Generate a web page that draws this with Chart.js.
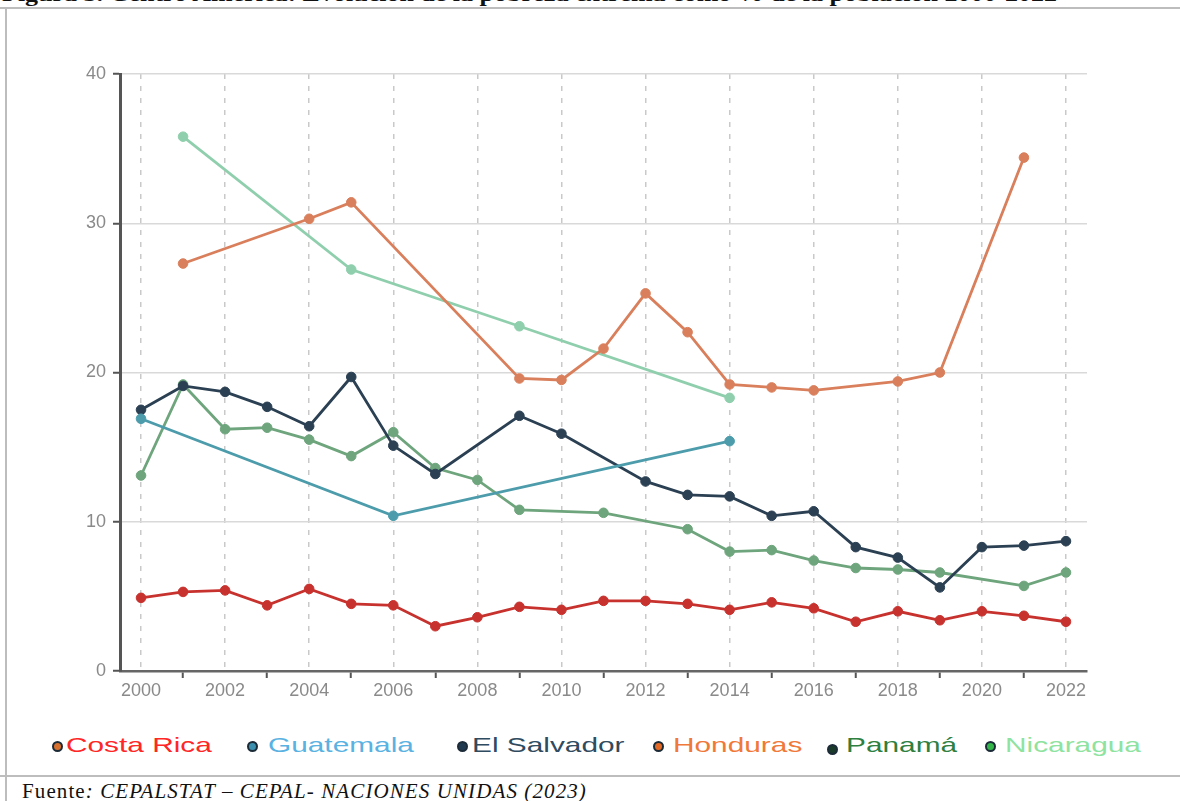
<!DOCTYPE html>
<html lang="es">
<head>
<meta charset="utf-8">
<script src="https://cdn.jsdelivr.net/npm/chart.js@4.4.1/dist/chart.umd.min.js"></script>
<style>
  html, body { margin: 0; padding: 0; background: #fff; }
  body { width: 1180px; height: 801px; position: relative; overflow: hidden; }
  #title {
    position: absolute; left: 2px; top: -17px; white-space: nowrap;
    font: bold 20px "Liberation Serif", "DejaVu Serif", serif; color: #111;
    transform: scaleX(1.3); transform-origin: left top;
  }
  #topRule { position: absolute; left: 0; top: 7px; width: 1180px; height: 2px; background: #bdbdbd; }
  #leftRule { position: absolute; left: 5px; top: 7px; width: 2px; height: 794px; background: #bdbdbd; }
  #bottomRule { position: absolute; left: 0; top: 775px; width: 1180px; height: 2px; background: #bdbdbd; }
  #chartBox { position: absolute; left: 60px; top: 40px; width: 1040px; height: 680px; }
  #legend { position: absolute; left: 0; top: 731px; width: 1180px; height: 32px; }
  .dot {
    position: absolute; width: 7px; height: 7px; border-radius: 50%;
    border: 2px solid #1c2b38; top: 10px;
  }
  .txt {
    position: absolute; top: 2px; white-space: nowrap;
    font: 21px "Liberation Sans", Arial, sans-serif;
    transform: scaleX(1.42); transform-origin: left center;
  }
  #source {
    position: absolute; left: 22px; top: 779px; white-space: nowrap;
    font: 21px "Liberation Serif", "DejaVu Serif", serif; color: #111;
    letter-spacing: 1.1px;
  }
</style>
</head>
<body>
<div id="title">Figura 3. Centro América: Evolución de la pobreza extrema como % de la población 2000-2022</div>
<div id="topRule"></div>
<div id="leftRule"></div>
<div id="chartBox"><canvas id="povertyChart"></canvas></div>
<div id="legend"></div>
<div id="bottomRule"></div>
<div id="source">Fuente<i>: CEPALSTAT – CEPAL- NACIONES UNIDAS (2023)</i></div>

<script>
const years = ["2000", "2001", "2002", "2003", "2004", "2005", "2006", "2007", "2008", "2009", "2010", "2011",
               "2012", "2013", "2014", "2015", "2016", "2017", "2018", "2019", "2020", "2021", "2022"];

const countries = ["Costa Rica", "Guatemala", "El Salvador", "Honduras", "Panamá", "Nicaragua"];

const costaRica = [4.9, 5.3, 5.4, 4.4, 5.5, 4.5, 4.4, 3.0, 3.6, 4.3, 4.1, 4.7,
                   4.7, 4.5, 4.1, 4.6, 4.2, 3.3, 4.0, 3.4, 4.0, 3.7, 3.3];
const guatemala = [16.9, null, null, null, null, null, 10.4, null, null, null, null, null,
                   null, null, 15.4, null, null, null, null, null, null, null, null];
const elSalvador = [17.5, 19.1, 18.7, 17.7, 16.4, 19.7, 15.1, 13.2, null, 17.1, 15.9, null,
                    12.7, 11.8, 11.7, 10.4, 10.7, 8.3, 7.6, 5.6, 8.3, 8.4, 8.7];
const honduras = [null, 27.3, null, null, 30.3, 31.4, null, null, null, 19.6, 19.5, 21.6,
                  25.3, 22.7, 19.2, 19.0, 18.8, null, 19.4, 20.0, null, 34.4, null];
const panama = [13.1, 19.2, 16.2, 16.3, 15.5, 14.4, 16.0, 13.6, 12.8, 10.8, null, 10.6,
                null, 9.5, 8.0, 8.1, 7.4, 6.9, 6.8, 6.6, null, 5.7, 6.6];
const nicaragua = [null, 35.8, null, null, null, 26.9, null, null, null, 23.1, null, null,
                   null, null, 18.3, null, null, null, null, null, null, null, null];

const yTicks = [0, 10, 20, 30, 40];

// colores de las líneas
const lineColors = ["#c8322e", "#4c9cac", "#2b4053", "#d97f5c", "#6ea57c", "#90cfad"];
// colores de la leyenda (texto y punto), tal como aparecen en la figura
const legendText = ["#ff2626", "#5ab2e2", "#2f4b60", "#f07838", "#2e7f40", "#8ee3a0"];
const legendDot = ["#d8702e", "#3b8fae", "#1f3a50", "#e56a26", "#1a3a2a", "#33b54a"];
const legendDotX = [57, 252, 462, 658, 832, 990];
const legendTextX = [66, 268, 472, 673, 846, 1005];

const series = [costaRica, guatemala, elSalvador, honduras, panama, nicaragua];

new Chart(document.getElementById("povertyChart"), {
    type: 'line',
    data: {
        labels: years,
        datasets: countries.map((name, i) => ({
            label: name,
            data: series[i],
            borderColor: lineColors[i],
            backgroundColor: lineColors[i],
            pointBackgroundColor: lineColors[i],
            pointBorderColor: lineColors[i],
            borderWidth: 2.8,
            pointRadius: 4.8,
            pointBorderWidth: 1,
            spanGaps: true,
            tension: 0
        }))
    },
    options: {
        responsive: true,
        maintainAspectRatio: false,
        animation: false,
        layout: { padding: { top: 34, right: 13, left: 0, bottom: 0 } },
        plugins: {
            legend: { display: false },
            tooltip: { enabled: false }
        },
        scales: {
            x: {
                offset: true,
                afterFit: s => { s.height = 49; },
                grid: {
                    color: c => c.index % 2 === 0 ? '#c9c9c9' : 'rgba(0,0,0,0)',
                    lineWidth: 1.5,
                    tickColor: c => c.index % 2 === 1 ? '#555' : 'rgba(0,0,0,0)',
                    tickLength: 7,
                    tickWidth: 2
                },
                border: { color: '#666', width: 2.5, dash: [5, 7] },
                ticks: {
                    autoSkip: false,
                    maxRotation: 0,
                    padding: 2,
                    color: '#8a8a8a',
                    font: { family: 'Liberation Sans, Arial, sans-serif', size: 18 },
                    callback: (v, i) => i % 2 === 0 ? years[i] : ''
                }
            },
            y: {
                min: yTicks[0],
                max: yTicks[yTicks.length - 1],
                afterFit: s => { s.width = 60; },
                grid: {
                    color: '#d9d9d9',
                    lineWidth: 1.5,
                    tickColor: '#555',
                    tickLength: 7,
                    tickWidth: 2
                },
                border: { color: '#555', width: 3 },
                ticks: {
                    stepSize: 10,
                    padding: 7,
                    color: '#8a8a8a',
                    font: { family: 'Liberation Sans, Arial, sans-serif', size: 18 }
                }
            }
        }
    }
});

// Leyenda hecha a mano
const legend = document.getElementById("legend");
countries.forEach((name, i) => {
    const dot = document.createElement("span");
    dot.className = "dot";
    dot.style.left = (legendDotX[i] - 5) + "px";
    dot.style.background = legendDot[i];
    if (name === "Panamá") dot.style.top = "13px";
    legend.appendChild(dot);

    const txt = document.createElement("span");
    txt.className = "txt";
    txt.style.left = legendTextX[i] + "px";
    txt.style.color = legendText[i];
    txt.textContent = name;
    legend.appendChild(txt);
});
</script>
</body>
</html>
